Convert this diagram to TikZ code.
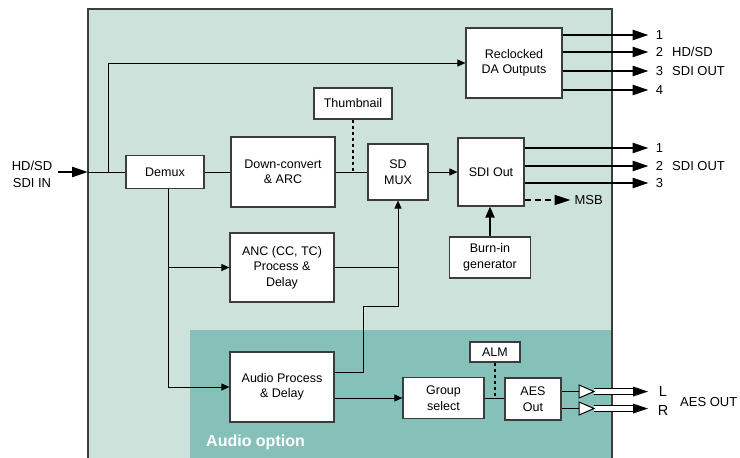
\documentclass[tikz,border=0pt]{standalone}
\usepackage{fontspec}
\setmainfont{Liberation Sans}
\usetikzlibrary{arrows.meta, calc}

\definecolor{cardbg}{RGB}{205,226,219}
\definecolor{audiobg}{RGB}{134,193,185}
\definecolor{edge}{RGB}{60,60,60}

\begin{document}
\begin{tikzpicture}[
    x=1pt, y=-1pt,
    blk/.style={draw=edge, line width=1.2pt, fill=white, align=center, inner sep=1pt,
                font=\fontsize{12.5}{15.5}\selectfont},
    wire/.style={line width=1pt},
    arrow/.style={-{Triangle[length=8pt, width=7pt]}, line width=1pt},
    bigarrow/.style={-{Triangle[length=16pt, width=10pt]}, line width=2.5pt},
    lbl/.style={font=\fontsize{13}{17}\selectfont, inner sep=0pt}
]

    \useasboundingbox (0,0) rectangle (740,458);
    \clip (0,0) rectangle (740,458);

    % Card and audio option area
    \fill[cardbg] (88,9) rectangle (612,470);
    \fill[audiobg] (190,330) rectangle (612,470);
    \draw[edge, line width=1.3pt] (88,470) -- (88,9) -- (612,9) -- (612,470);
    \node[anchor=west, text=white, inner sep=0pt, font=\fontsize{16}{18}\selectfont\bfseries]
        (audioopt) at (206,442) {Audio option};

    % Blocks
    \node[blk, minimum width=78pt, minimum height=33pt] (demux) at (165,172) {Demux};
    \node[blk, minimum width=104pt, minimum height=70pt] (dnconv) at (283,172) {Down-convert\\\& ARC};
    \node[blk, minimum width=78pt, minimum height=31pt] (thumb) at (353,103.5) {Thumbnail};
    \node[blk, minimum width=60pt, minimum height=56pt] (sdmux) at (398,172) {SD\\MUX};
    \node[blk, minimum width=66pt, minimum height=68pt] (sdiout) at (491,172) {SDI Out};
    \node[blk, minimum width=96pt, minimum height=70pt] (da) at (514,63) {Reclocked\\DA Outputs};
    \node[blk, minimum width=81pt, minimum height=41pt] (burnin) at (490,257.5) {Burn-in\\generator};
    \node[blk, minimum width=104pt, minimum height=69pt] (anc) at (282,267.5) {ANC (CC, TC)\\Process \&\\Delay};
    \node[blk, minimum width=104pt, minimum height=70pt] (audio) at (282,387) {Audio Process\\\& Delay};
    \node[blk, minimum width=81pt, minimum height=41pt] (grpsel) at (443.5,398) {Group\\select};
    \node[blk, minimum width=50pt, minimum height=20pt] (alm) at (495,352) {ALM};
    \node[blk, minimum width=56pt, minimum height=42pt] (aesout) at (533,399) {AES\\Out};

    % Input
    \coordinate (inL) at (58,172);
    \coordinate (inR) at (88,172);
    \coordinate (tap) at (108,172);
    \coordinate (dtap) at (168,188.5);
    \draw[bigarrow] (inL) -- (inR);
    \node[lbl, align=center] (sdiin) at (32,174) {HD/SD\\SDI IN};
    \draw[wire] (inR) -- (demux.west);
    \draw[arrow] (tap) |- (da.west);

    % Video path
    \draw[wire] (demux.east) -- (dnconv.west);
    \draw[wire] (dnconv.east) -- (sdmux.west);
    \draw[wire, dashed, line width=1.5pt] (thumb.south) -- (thumb.south |- sdmux.west);
    \draw[arrow] (sdmux.east) -- (sdiout.west);
    \draw[arrow] (dtap) |- (anc.west);
    \draw[arrow] (dtap) |- (audio.west);
    \draw[wire] (anc.east) -- (anc.east -| sdmux.south);
    \draw[arrow] ($(audio.east)+(0,-15)$) -- ++(29,0) -- ++(0,-66) -| (sdmux.south);
    \draw[-{Triangle[length=11pt, width=9pt]}, line width=2pt] (burnin.north) -- (burnin.north |- sdiout.south);

    % Audio path
    \draw[arrow] (audio.east |- grpsel.west) -- (grpsel.west);
    \draw[wire] (grpsel.east) -- (aesout.west |- grpsel.east);
    \draw[wire, dashed, line width=1.5pt] (alm.south) -- (alm.south |- grpsel.east);

    % DA outputs
    \foreach \dy/\idx in {-28/1, -11/2, 8/3, 27/4}
        \draw[bigarrow] ($(da.east)+(0,\dy)$) -- ($(da.east)+(86,\dy)$)
            node[lbl, anchor=west, xshift=6pt] (daout\idx) {\idx};
    \node[lbl, anchor=west] (hdsd) at (672,52) {HD/SD};
    \node[lbl, anchor=west] (sdiouta) at (672,71) {SDI OUT};

    % SDI outputs
    \foreach \dy/\idx in {-24/1, -6/2, 11/3}
        \draw[bigarrow] ($(sdiout.east)+(0,\dy)$) -- ($(sdiout.east)+(124,\dy)$)
            node[lbl, anchor=west, xshift=6pt] (sdout\idx) {\idx};
    \node[lbl, anchor=west] (sdioutb) at (672,166) {SDI OUT};
    \draw[bigarrow, dash pattern=on 6pt off 4pt, line width=2pt] ($(sdiout.east)+(0,28)$) -- ++(46,0)
        node[lbl, anchor=west, xshift=3pt] (msb) {MSB};

    % AES outputs
    \coordinate (trL) at (579,391.5);
    \coordinate (trR) at (579,408.5);
    \draw[wire] ($(aesout.east)+(0,-7.5)$) -- (trL);
    \draw[wire] ($(aesout.east)+(0,9.5)$) -- (trR);
    \foreach \tr in {trL, trR} {
        \draw[line width=1pt, double=white, double distance=4.5pt] ($(\tr)+(15,0)$) -- ($(\tr)+(55,0)$);
        \fill ($(\tr)+(54,-5)$) -- ($(\tr)+(69,0)$) -- ($(\tr)+(54,5)$) -- cycle;
        \draw[wire, fill=white] ($(\tr)+(0,-6.5)$) -- ($(\tr)+(15,0)$) -- ($(\tr)+(0,6.5)$) -- cycle;
    }
    \node[font=\fontsize{14.5}{16}\selectfont, inner sep=0pt] (chL) at (663,392) {L};
    \node[font=\fontsize{14.5}{16}\selectfont, inner sep=0pt] (chR) at (663,411) {R};
    \node[lbl, anchor=west] (aesdesc) at (680,402) {AES OUT};

\end{tikzpicture}
\end{document}
